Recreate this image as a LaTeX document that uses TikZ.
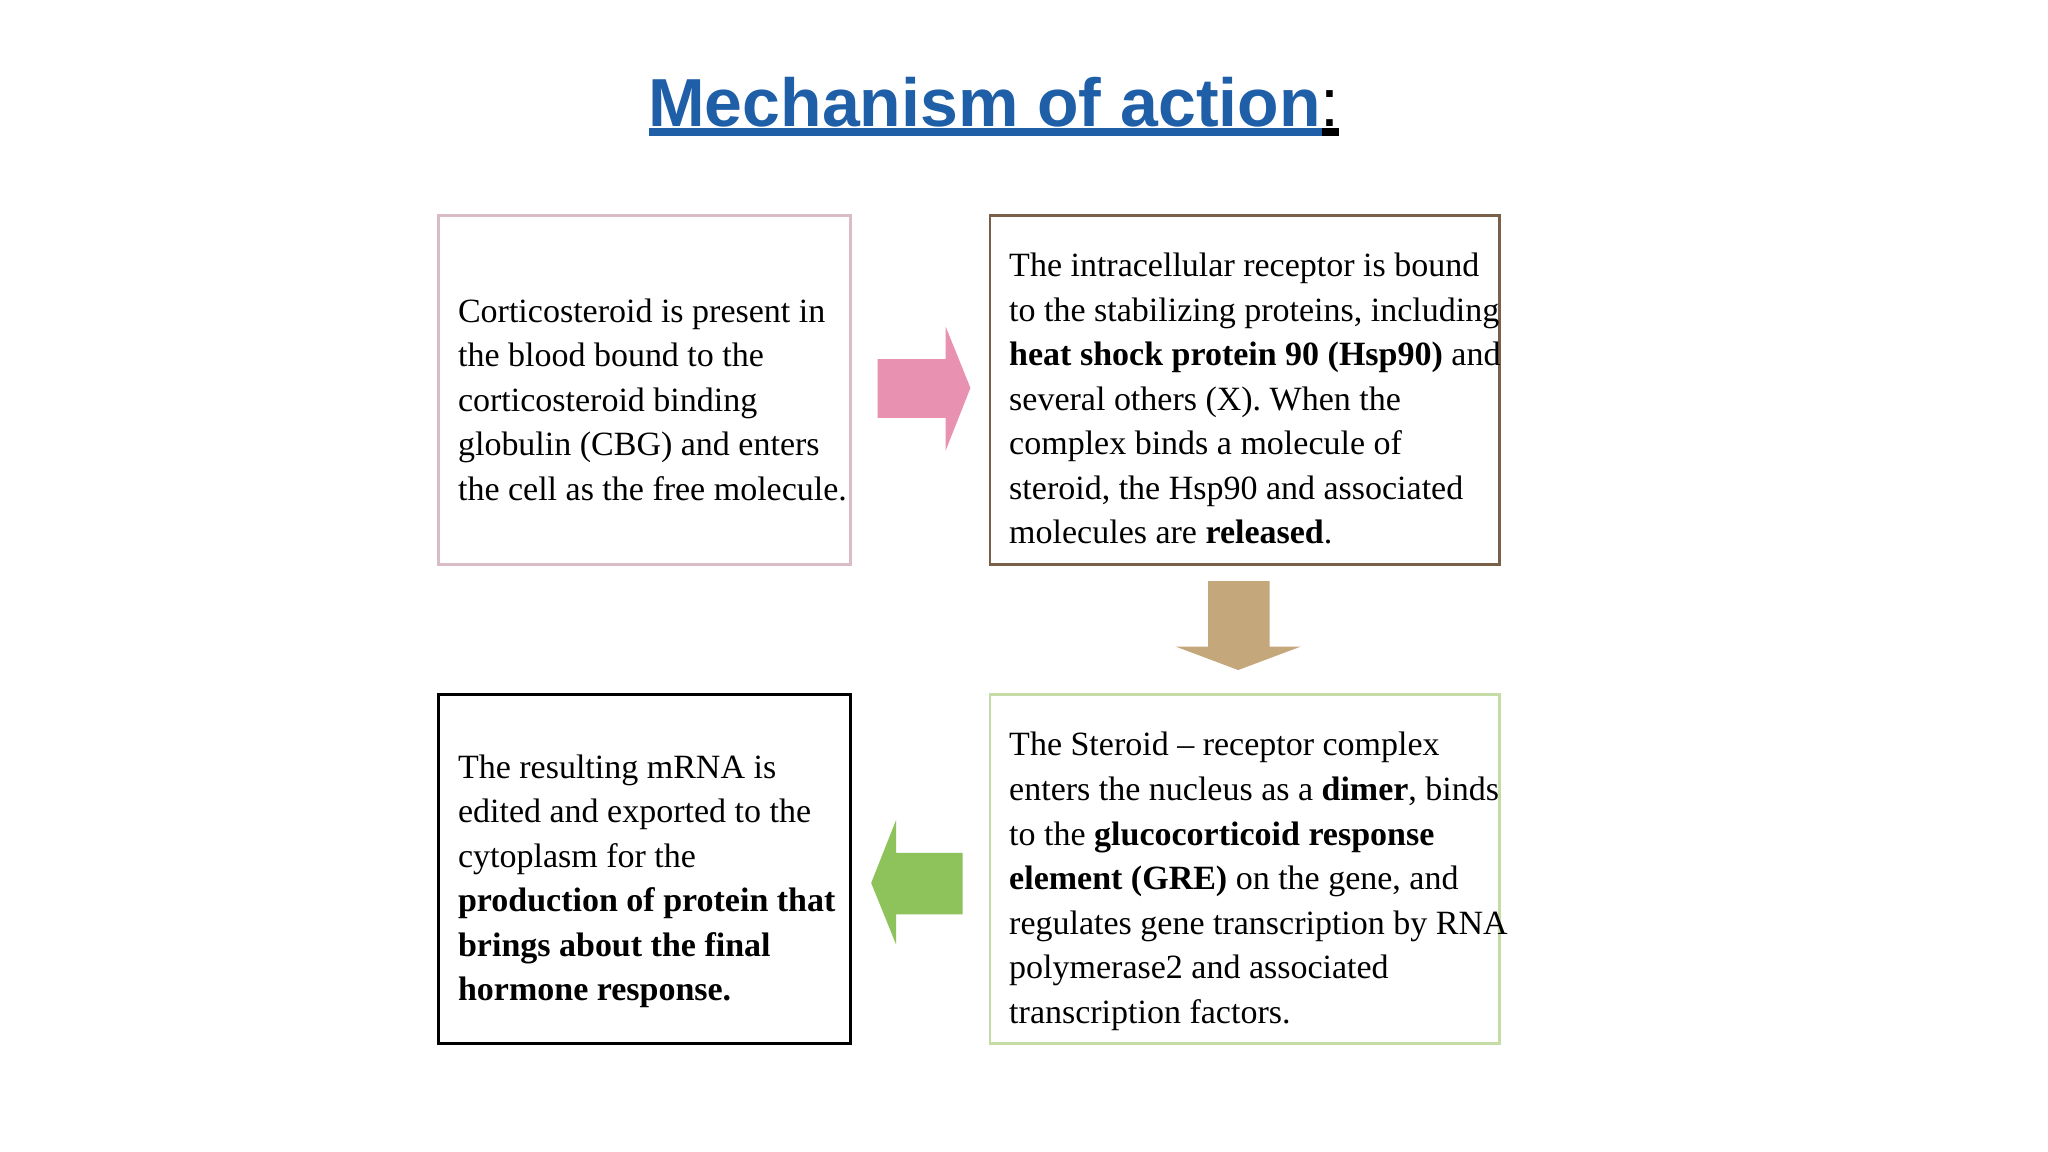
\documentclass[tikz,border=0pt]{standalone}
\usepackage{fontspec}
\setmainfont{Liberation Serif}
\newfontfamily\titlefont{Liberation Sans}
\definecolor{titleblue}{HTML}{1F5FA8}
\definecolor{pinkbd}{HTML}{D9BCC4}
\definecolor{brownbd}{HTML}{7A6048}
\definecolor{greenbd}{HTML}{C6DCA6}
\definecolor{pinkar}{HTML}{E891B0}
\definecolor{brownar}{HTML}{C4A77A}
\definecolor{greenar}{HTML}{8DC35A}
\begin{document}
\begin{tikzpicture}[x=0.01cm,y=-0.01cm,
  boxtext/.style={anchor=north west,inner sep=0pt,align=left,font=\fontsize{7.4}{9.7}\selectfont},
  stepbox/.style={line width=0.6pt}]
\useasboundingbox (0,0) rectangle (1568,882);
\fill[white] (0,0) rectangle (1568,882);
% title
\node (title) at (761,78) {\titlefont\fontsize{14.8}{18}\selectfont\textcolor{titleblue}{\bfseries Mechanism of action}:};
\draw[titleblue,line width=1.6pt] (497,101) -- (1012,101);
\draw[black,line width=1.6pt] (1012,101) -- (1025,101);
% boxes
\draw[stepbox,pinkbd] (336,165) rectangle (651,432);
\draw[stepbox,brownbd] (758,165) rectangle (1148,432);
\draw[stepbox,black] (336,532) rectangle (651,799);
\draw[stepbox,greenbd] (758,532) rectangle (1148,799);
\node[boxtext] (t1) at (350,228) {Corticosteroid is present in\\the blood bound to the\\corticosteroid binding\\globulin (CBG) and enters\\the cell as the free molecule.};
\node[boxtext] (t2) at (772,193) {The intracellular receptor is bound\\to the stabilizing proteins, including\\\textbf{heat shock protein 90 (Hsp90)} and\\several others (X). When the\\complex binds a molecule of\\steroid, the Hsp90 and associated\\molecules are \textbf{released}.};
\node[boxtext] (t3) at (350,577) {The resulting mRNA is\\edited and exported to the\\cytoplasm for the\\\textbf{production of protein that}\\\textbf{brings about the final}\\\textbf{hormone response.}};
\node[boxtext] (t4) at (772,560) {The Steroid -- receptor complex\\enters the nucleus as a \textbf{dimer}, binds\\to the \textbf{glucocorticoid response}\\\textbf{element (GRE)} on the gene, and\\regulates gene transcription by RNA\\polymerase2 and associated\\transcription factors.};
% arrows
\fill[pinkar] (672,275) -- (724,275) -- (724,250) -- (743,297) -- (724,345) -- (724,320) -- (672,320) -- cycle;
\fill[brownar] (925,445) -- (972,445) -- (972,495) -- (996,495) -- (948,513) -- (900,495) -- (925,495) -- cycle;
\fill[greenar] (737,653) -- (686,653) -- (686,628) -- (667,676) -- (686,723) -- (686,700) -- (737,700) -- cycle;
\end{tikzpicture}
\end{document}
